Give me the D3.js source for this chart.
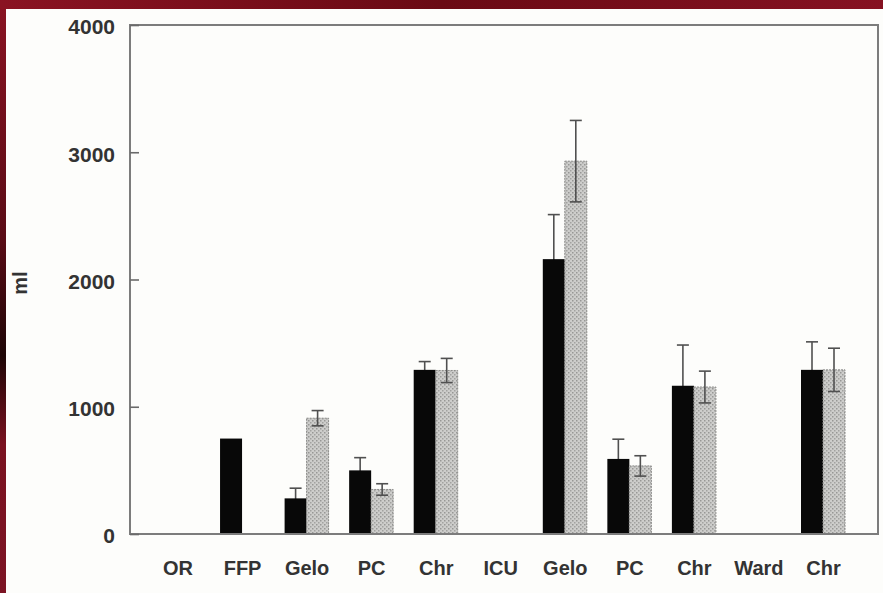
<!DOCTYPE html>
<html>
<head>
  <script src="https://cdn.jsdelivr.net/npm/d3@7"></script>
  <style>
    body { margin: 0; background: #6e0f1c; }
    svg { display: block; }
  </style>
</head>
<body>
<script>
  // values (ml)
  const categories = ["OR", "FFP", "Gelo", "PC", "Chr", "ICU", "Gelo", "PC", "Chr", "Ward", "Chr"];
  const blackValues = [null, 750, 280, 500, 1290, null, 2160, 590, 1165, null, 1290];
  const blackErrors = [null, null, 80, 100, 65, null, 350, 155, 320, null, 220];
  const greyValues = [null, null, 910, 350, 1285, null, 2930, 535, 1155, null, 1290];
  const greyErrors = [null, null, 60, 45, 95, null, 320, 80, 125, null, 170];
  const yTicks = [0, 1000, 2000, 3000, 4000];

  const W = 883, H = 593;
  const plotLeft = 130, plotRight = 878, plotTop = 25, plotBottom = 534;
  const barW = 22;

  const svg = d3.select("body").append("svg")
    .attr("width", W)
    .attr("height", H);

  const defs = svg.append("defs");
  // dark red frame
  const grad = defs.append("linearGradient").attr("id", "frame")
    .attr("x1", 0).attr("y1", 0).attr("x2", 0).attr("y2", 1);
  grad.append("stop").attr("offset", "0%").attr("stop-color", "#8a1322");
  grad.append("stop").attr("offset", "40%").attr("stop-color", "#5a0c16");
  grad.append("stop").attr("offset", "60%").attr("stop-color", "#1e0606");
  grad.append("stop").attr("offset", "75%").attr("stop-color", "#7a1220");
  grad.append("stop").attr("offset", "100%").attr("stop-color", "#7c1424");

  const topGrad = defs.append("linearGradient").attr("id", "topband");
  topGrad.append("stop").attr("offset", "0%").attr("stop-color", "#8a1322");
  topGrad.append("stop").attr("offset", "50%").attr("stop-color", "#6a0a14");
  topGrad.append("stop").attr("offset", "100%").attr("stop-color", "#861222");

  // dotted grey fill
  const pat = defs.append("pattern").attr("id", "dots")
    .attr("width", 4).attr("height", 4)
    .attr("patternUnits", "userSpaceOnUse");
  pat.append("rect").attr("width", 4).attr("height", 4).attr("fill", "#cdcdcb");
  pat.append("rect").attr("x", 0).attr("y", 0).attr("width", 1.5).attr("height", 1.5).attr("fill", "#979795");
  pat.append("rect").attr("x", 2).attr("y", 2).attr("width", 1.5).attr("height", 1.5).attr("fill", "#a2a2a0");

  svg.append("rect").attr("width", W).attr("height", H).attr("fill", "url(#frame)");
  svg.append("rect").attr("width", W).attr("height", 9).attr("fill", "url(#topband)");
  svg.append("rect").attr("x", 6).attr("y", 9).attr("width", W - 6).attr("height", H - 9).attr("fill", "#fdfdfb");

  const x = d3.scalePoint()
    .domain(d3.range(categories.length))
    .range([177.5, 823]);

  const y = d3.scaleLinear()
    .domain([0, 4000])
    .range([plotBottom, plotTop]);

  const font = "'Liberation Sans', Arial, Helvetica, sans-serif";
  const idx = d3.range(categories.length);

  // error bars
  function errorBars(cls, values, errors, offset) {
    const g = svg.selectAll("g." + cls)
      .data(idx.filter(i => errors[i] != null))
      .enter().append("g")
      .attr("class", cls)
      .attr("stroke", "#505050")
      .attr("stroke-width", 1.6);
    g.append("line")
      .attr("x1", i => x(i) + offset).attr("x2", i => x(i) + offset)
      .attr("y1", i => y(values[i] - errors[i]))
      .attr("y2", i => y(values[i] + errors[i]));
    g.append("line")
      .attr("x1", i => x(i) + offset - 6).attr("x2", i => x(i) + offset + 6)
      .attr("y1", i => y(values[i] + errors[i]))
      .attr("y2", i => y(values[i] + errors[i]));
    g.append("line")
      .attr("x1", i => x(i) + offset - 6).attr("x2", i => x(i) + offset + 6)
      .attr("y1", i => y(values[i] - errors[i]))
      .attr("y2", i => y(values[i] - errors[i]));
  }

  // black-bar error bars go underneath so the lower half is hidden by the bar
  errorBars("errBlack", blackValues, blackErrors, -barW / 2);

  // black bars
  svg.selectAll("rect.black")
    .data(idx.filter(i => blackValues[i] != null))
    .enter().append("rect")
    .attr("class", "black")
    .attr("x", i => x(i) - barW)
    .attr("y", i => y(blackValues[i]))
    .attr("width", barW)
    .attr("height", i => y(0) - y(blackValues[i]))
    .attr("fill", "#080808");

  // grey bars
  svg.selectAll("rect.grey")
    .data(idx.filter(i => greyValues[i] != null))
    .enter().append("rect")
    .attr("class", "grey")
    .attr("x", i => x(i))
    .attr("y", i => y(greyValues[i]))
    .attr("width", barW)
    .attr("height", i => y(0) - y(greyValues[i]))
    .attr("fill", "url(#dots)")
    .attr("stroke", "#8a8a88")
    .attr("stroke-width", 1)
    .attr("stroke-dasharray", "2,1");

  errorBars("errGrey", greyValues, greyErrors, barW / 2);

  // frame
  svg.append("rect")
    .attr("x", plotLeft).attr("y", plotTop)
    .attr("width", plotRight - plotLeft).attr("height", plotBottom - plotTop)
    .attr("fill", "none")
    .attr("stroke", "#7c7c7c")
    .attr("stroke-width", 2);

  // y axis, ticks pointing inward
  const yAxis = svg.append("g")
    .attr("transform", `translate(${plotLeft},0)`)
    .call(d3.axisLeft(y).tickValues(yTicks).tickSize(-9).tickPadding(15).tickFormat(d3.format("d")));
  yAxis.select(".domain").remove();
  yAxis.selectAll(".tick line").attr("stroke", "#6a6a6a").attr("stroke-width", 1.6);
  yAxis.selectAll(".tick text")
    .attr("fill", "#333")
    .attr("dy", "0.42em")
    .style("font-family", font)
    .style("font-size", "21px")
    .style("font-weight", "bold");

  // x axis labels
  const xAxis = svg.append("g")
    .attr("transform", `translate(0,${plotBottom})`)
    .call(d3.axisBottom(x).tickSize(0).tickPadding(27).tickFormat(i => categories[i]));
  xAxis.select(".domain").remove();
  xAxis.selectAll(".tick text")
    .attr("fill", "#333")
    .style("font-family", font)
    .style("font-size", "20px")
    .style("font-weight", "bold");

  svg.append("text")
    .attr("transform", "translate(27,283) rotate(-90)")
    .attr("text-anchor", "middle")
    .attr("fill", "#333")
    .style("font-family", font)
    .style("font-size", "20px")
    .style("font-weight", "bold")
    .text("ml");
</script>
</body>
</html>
